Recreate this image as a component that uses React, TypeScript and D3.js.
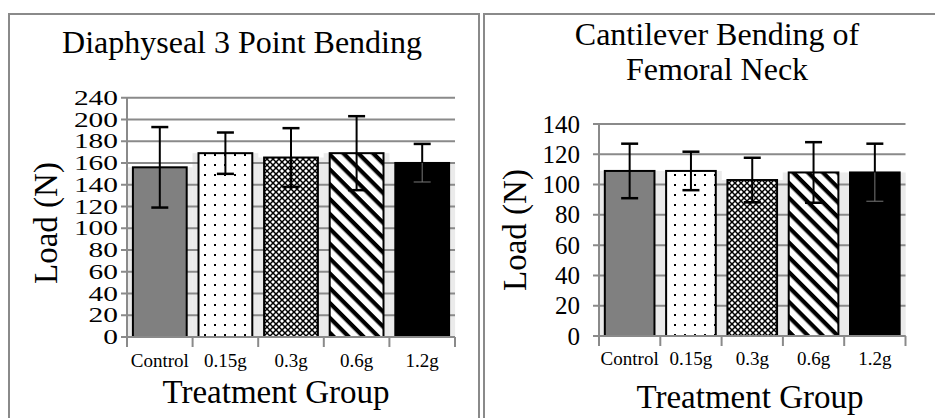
import React from "react";
import * as d3 from "d3";

const categories = ["Control", "0.15g", "0.3g", "0.6g", "1.2g"];
const diaphysealMeans = [156, 169, 165, 169, 160];
const diaphysealErrors = [37, 19, 27, 34, 17.5];
const neckMeans = [109, 109, 103, 108, 108];
const neckErrors = [18, 12.7, 14.7, 20, 19];
const diaphysealTicks = [0, 20, 40, 60, 80, 100, 120, 140, 160, 180, 200, 220];
const diaphysealTickLabels = ["0", "20", "40", "60", "80", "100", "120", "140", "160", "180", "200", "240"];
const neckTicks = [0, 20, 40, 60, 80, 100, 120, 140];
const neckTickLabels = ["0", "20", "40", "60", "80", "100", "120", "140"];
const diaphysealTitle = ["Diaphyseal 3 Point Bending"];
const neckTitle = ["Cantilever Bending of", "Femoral Neck"];

const fills = ["#808080", "url(#dots)", "url(#hatch)", "url(#stripes)", "#000"];
const FONT = "'Liberation Serif', 'Times New Roman', serif";
const GRID = "#8a8a8a";

type ChartProps = {
  means: number[];
  errors: number[];
  ticks: number[];
  tickLabels: string[];
  title: string[];
  L: {
    axisX: number; rightX: number; yTop: number; y0: number; domainMax: number;
    titleX: number; titleYs: number[]; tickLabelX: number; tickFont: number; tickScaleX: number;
    catY: number; xTitleX: number; xTitleY: number; yTitleX: number; yTitleY: number; pad: number;
  };
};

function Chart({ means, errors, ticks, tickLabels, title, L }: ChartProps) {
  const x = d3.scaleBand<string>().domain(categories).range([L.axisX, L.rightX])
    .paddingInner(L.pad).paddingOuter(L.pad / 2);
  const y = d3.scaleLinear().domain([0, L.domainMax]).range([L.y0, L.yTop]);
  const step = x.step();
  const bw = x.bandwidth();
  const capW = 17;
  return (
    <g>
      {title.map((t, i) => (
        <text key={i} x={L.titleX} y={L.titleYs[i]} textAnchor="middle" fontSize={32} fontFamily={FONT}>{t}</text>
      ))}
      {categories.map((c, i) => (
        <rect key={"s" + i} x={(x(c) as number) - 6} width={bw + 12} y={y(means[i])} height={L.y0 - y(means[i])} fill="#ebebeb" />
      ))}
      {ticks.map((t, i) => (
        <line key={"g" + i} x1={L.axisX - 6} x2={L.rightX} y1={y(t)} y2={y(t)} stroke={GRID} strokeWidth={2} />
      ))}
      <line x1={L.axisX} x2={L.axisX} y1={y(ticks[ticks.length - 1])} y2={L.y0 + 10} stroke={GRID} strokeWidth={2} />
      {d3.range(categories.length + 1).map((i) => (
        <line key={"ct" + i} x1={L.axisX + i * step} x2={L.axisX + i * step} y1={L.y0} y2={L.y0 + 10} stroke={GRID} strokeWidth={2} />
      ))}
      {categories.map((c, i) => (
        <rect key={"b" + i} x={x(c)} width={bw} y={y(means[i])} height={L.y0 - y(means[i])} fill={fills[i]} stroke="#000" strokeWidth={2} />
      ))}
      {categories.map((c, i) => {
        const cx = (x(c) as number) + bw / 2;
        const hi = y(means[i] + errors[i]);
        const lo = y(means[i] - errors[i]);
        const top = y(means[i]);
        const dark = fills[i] === "#000";
        const inner = dark ? "#777" : "#000";
        return (
          <g key={"e" + i}>
            <line x1={cx} x2={cx} y1={hi} y2={top} stroke="#000" strokeWidth={2} />
            <line x1={cx} x2={cx} y1={top} y2={lo} stroke={inner} strokeWidth={dark ? 1 : 2} />
            <line x1={cx - capW / 2} x2={cx + capW / 2} y1={hi} y2={hi} stroke="#000" strokeWidth={2.5} />
            <line x1={cx - capW / 2} x2={cx + capW / 2} y1={lo} y2={lo} stroke={inner} strokeWidth={dark ? 1 : 2.5} />
          </g>
        );
      })}
      <line x1={L.axisX} x2={L.rightX} y1={L.y0} y2={L.y0} stroke={GRID} strokeWidth={2} />
      {ticks.map((t, i) => (
        <text key={"tl" + i} transform={`translate(${L.tickLabelX},${y(t)}) scale(${L.tickScaleX},1)`} dy="0.34em" textAnchor="end" fontSize={L.tickFont} fontFamily={FONT}>{tickLabels[i]}</text>
      ))}
      {categories.map((c, i) => (
        <text key={"cl" + i} x={(x(c) as number) + bw / 2} y={L.catY} textAnchor="middle" fontSize={19} fontFamily={FONT}>{c}</text>
      ))}
      <text x={L.xTitleX} y={L.xTitleY} textAnchor="middle" fontSize={33} fontFamily={FONT}>Treatment Group</text>
      <text transform={`translate(${L.yTitleX},${L.yTitleY}) rotate(-90)`} textAnchor="middle" fontSize={33} fontFamily={FONT}>Load (N)</text>
    </g>
  );
}

export default function App() {
  return (
    <svg width={935} height={418} style={{ position: "absolute", left: 0, top: 0, background: "#fff" }}>
      <defs>
        <pattern id="dots" width={10} height={10} patternUnits="userSpaceOnUse">
          <rect width={10} height={10} fill="#fff" />
          <rect x={4} y={4} width={2} height={2} fill="#000" />
        </pattern>
        <pattern id="hatch" width={6} height={6} patternUnits="userSpaceOnUse">
          <rect width={6} height={6} fill="#fff" />
          <path d="M0,0 L6,6 M6,0 L0,6" stroke="#000" strokeWidth={1.5} />
        </pattern>
        <pattern id="stripes" width={10.5} height={10.5} patternUnits="userSpaceOnUse" patternTransform="rotate(45)">
          <rect width={10.5} height={10.5} fill="#fff" />
          <rect width={10.5} height={4.2} fill="#000" />
        </pattern>
      </defs>
      <path d="M9,418 V14 H479 V418" fill="none" stroke={GRID} strokeWidth={2} />
      <path d="M484,418 V14 H935" fill="none" stroke={GRID} strokeWidth={2} />
      <Chart
        means={diaphysealMeans}
        errors={diaphysealErrors}
        ticks={diaphysealTicks}
        tickLabels={diaphysealTickLabels}
        title={diaphysealTitle}
        L={{
          axisX: 127, rightX: 455, yTop: 97.7, y0: 337, domainMax: 220,
          titleX: 242, titleYs: [53], tickLabelX: 118, tickFont: 21, tickScaleX: 1.4,
          catY: 367, xTitleX: 276, xTitleY: 403, yTitleX: 57, yTitleY: 223, pad: 0.18,
        }}
      />
      <Chart
        means={neckMeans}
        errors={neckErrors}
        ticks={neckTicks}
        tickLabels={neckTickLabels}
        title={neckTitle}
        L={{
          axisX: 599, rightX: 905.5, yTop: 124, y0: 336, domainMax: 140,
          titleX: 717, titleYs: [45, 80], tickLabelX: 580, tickFont: 25, tickScaleX: 1,
          catY: 365, xTitleX: 750, xTitleY: 408, yTitleX: 526, yTitleY: 230, pad: 0.19,
        }}
      />
    </svg>
  );
}
